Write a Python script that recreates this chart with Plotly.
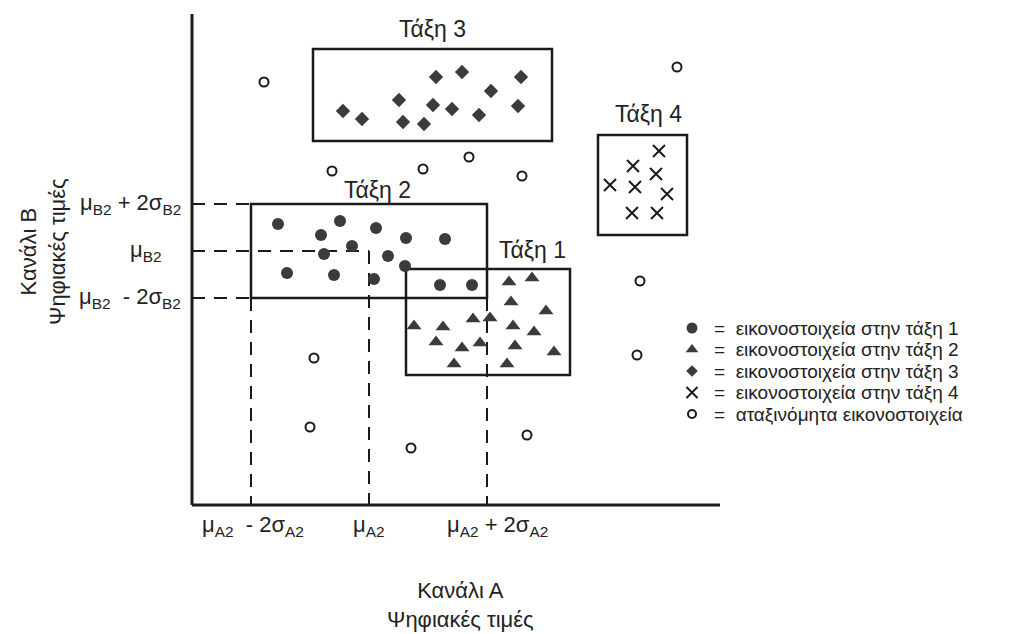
import plotly.graph_objects as go

# --- Pixel values (digital numbers) in band A (x) and band B (y) ---
class1_x = [317, 340, 319, 354, 222, 251, 281, 298, 321, 342, 244, 270, 288, 323, 362, 262, 315]
class1_y = [223, 227, 203, 194, 179, 178, 186, 187, 179, 173, 163, 157, 162, 159, 153, 141, 141]

class2_x = [86, 148, 129, 184, 214, 253, 160, 132, 196, 95, 142, 182, 213, 248, 280]
class2_y = [281, 284, 270, 277, 267, 266, 259, 251, 249, 232, 230, 226, 239, 220, 220]

class3_x = [151, 170, 207, 211, 232, 244, 241, 260, 270, 287, 299, 329, 326]
class3_y = [394, 386, 405, 383, 381, 428, 400, 396, 433, 390, 414, 428, 399]

class4_x = [467, 441, 464, 418, 443, 475, 440, 465]
class4_y = [354, 339, 331, 320, 318, 311, 292, 292]

unclass_x = [72, 140, 231, 277, 330, 485, 448, 445, 122, 118, 219, 335]
unclass_y = [423, 334, 336, 348, 329, 438, 224, 150, 147, 78, 57, 70]

# Class 2 statistics (parallelepiped limits = mean +/- 2 std)
mu_a2, sigma_a2 = 177, 59
mu_b2, sigma_b2 = 254, 23.5

# Decision boxes for the other classes: (x0, x1, y0, y1)
box_class1 = (214, 378, 130, 236)
box_class3 = (121, 360, 364, 456)
box_class4 = (406, 495, 270, 370)

class_labels = ["Τάξη 1", "Τάξη 2", "Τάξη 3", "Τάξη 4"]
legend_texts = [
    "εικονοστοιχεία στην τάξη 1",
    "εικονοστοιχεία στην τάξη 2",
    "εικονοστοιχεία στην τάξη 3",
    "εικονοστοιχεία στην τάξη 4",
    "αταξινόμητα εικονοστοιχεία",
]
legend_symbols = ["circle", "triangle-up", "diamond", "x-thin", "circle-open"]
legend_sizes = [11, 11, 9, 11, 8]

axis_x_max = 528
axis_y_max = 491

INK = "#1a1a1a"
FILL = "#3b3b3b"
TEXT = "#222222"
FONT = "Liberation Sans, Arial, sans-serif"

fig = go.Figure()

# Pixel clusters
fig.add_trace(go.Scatter(x=class1_x, y=class1_y, mode="markers",
                         marker=dict(symbol="triangle-up", size=13, color=FILL, line=dict(width=0))))
fig.add_trace(go.Scatter(x=class2_x, y=class2_y, mode="markers",
                         marker=dict(symbol="circle", size=12, color=FILL, line=dict(width=0))))
fig.add_trace(go.Scatter(x=class3_x, y=class3_y, mode="markers",
                         marker=dict(symbol="diamond", size=11, color=FILL, line=dict(width=0))))
fig.add_trace(go.Scatter(x=class4_x, y=class4_y, mode="markers",
                         marker=dict(symbol="x-thin", size=12, color=INK, line=dict(width=2, color=INK))))
fig.add_trace(go.Scatter(x=unclass_x, y=unclass_y, mode="markers",
                         marker=dict(symbol="circle-open", size=9, color=INK, line=dict(width=2, color=INK))))

shapes = []

def rect(x0, x1, y0, y1):
    shapes.append(dict(type="rect", x0=x0, x1=x1, y0=y0, y1=y1,
                       line=dict(color=INK, width=2.5), fillcolor="rgba(0,0,0,0)", layer="below"))

def seg(x0, y0, x1, y1, dash="solid", width=2.5):
    shapes.append(dict(type="line", x0=x0, y0=y0, x1=x1, y1=y1,
                       line=dict(color=INK, width=width, dash=dash), layer="below"))

a_lo, a_hi = mu_a2 - 2 * sigma_a2, mu_a2 + 2 * sigma_a2
b_lo, b_hi = mu_b2 - 2 * sigma_b2, mu_b2 + 2 * sigma_b2

rect(*box_class3)
rect(*box_class4)
rect(a_lo, a_hi, b_lo, b_hi)
rect(*box_class1)

# Axes
seg(0, 0, 0, axis_y_max, width=3)
seg(0, 0, axis_x_max, 0, width=3)

# Class 2 projection guides
DASH = "13px,9px"
seg(0, b_hi, a_lo, b_hi, DASH, 2)
seg(0, b_lo, a_lo, b_lo, DASH, 2)
seg(0, mu_b2, mu_a2, mu_b2, DASH, 2)
seg(mu_a2, mu_b2, mu_a2, 0, DASH, 2)
seg(a_lo, b_lo, a_lo, 0, DASH, 2)
seg(a_hi, b_lo, a_hi, 0, DASH, 2)

annotations = []

def txt(x, y, text, size=22, xanchor="center", textangle=0):
    annotations.append(dict(x=x, y=y, text=text, showarrow=False, xanchor=xanchor,
                            yanchor="middle", textangle=textangle,
                            font=dict(family=FONT, size=size, color=TEXT)))

# Class labels above each box
txt((box_class1[0] + box_class1[1]) / 2 + 44, box_class1[3] + 19, class_labels[0], size=23)
txt((a_lo + a_hi) / 2 + 8, b_hi + 14, class_labels[1], size=23)
txt((box_class3[0] + box_class3[1]) / 2, box_class3[3] + 20, class_labels[2], size=23)
txt((box_class4[0] + box_class4[1]) / 2 + 6, box_class4[3] + 21, class_labels[3], size=23)

# Band B limits
txt(-9, b_hi, "μ<sub>B2</sub> + 2σ<sub>B2</sub>", xanchor="right")
txt(-46, mu_b2, "μ<sub>B2</sub>")
txt(-9, b_lo, "μ<sub>B2</sub>  - 2σ<sub>B2</sub>", xanchor="right")

# Band A limits
txt(a_lo + 2, -21, "μ<sub>A2</sub>  - 2σ<sub>A2</sub>")
txt(mu_a2, -21, "μ<sub>A2</sub>")
txt(a_hi + 10, -21, "μ<sub>A2</sub> + 2σ<sub>A2</sub>")

# Axis titles
txt(268, -100, "Κανάλι Α<br>Ψηφιακές τιμές", size=22)
txt(-149, 253, "Κανάλι Β<br>Ψηφιακές τιμές", size=22, textangle=-90)

# Legend (symbols drawn as markers, text as annotations)
legend_x = 500
legend_y = [177, 155.5, 134, 112.5, 91]
for sym, size, ly, lt in zip(legend_symbols, legend_sizes, legend_y, legend_texts):
    open_sym = sym in ("x-thin", "circle-open")
    fig.add_trace(go.Scatter(x=[legend_x], y=[ly], mode="markers",
                             marker=dict(symbol=sym, size=size, color=INK if open_sym else FILL,
                                         line=dict(width=2 if open_sym else 0, color=INK))))
    txt(legend_x + 20, ly, "=  " + lt, size=19, xanchor="left")

fig.update_layout(
    width=1016, height=634, autosize=False,
    margin=dict(l=0, r=0, t=0, b=0),
    paper_bgcolor="white", plot_bgcolor="white",
    showlegend=False,
    shapes=shapes, annotations=annotations,
    xaxis=dict(range=[-192, 824], visible=False, fixedrange=True),
    yaxis=dict(range=[-129, 505], visible=False, fixedrange=True),
)

fig.write_html("out.html")
